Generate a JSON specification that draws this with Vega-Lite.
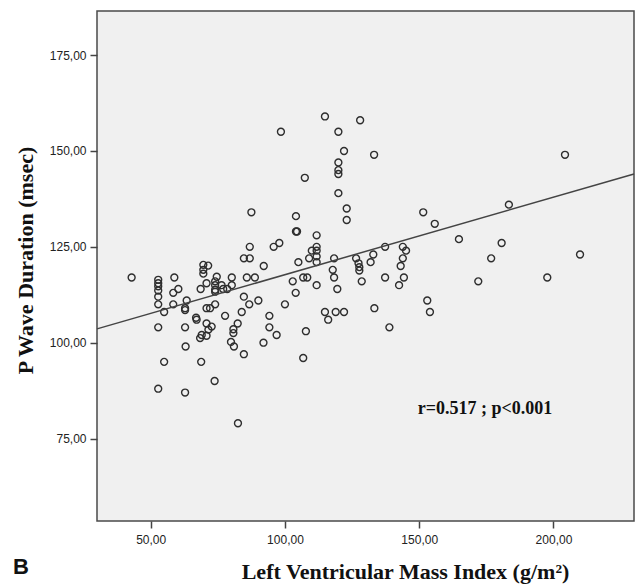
{
  "$schema": "https://vega.github.io/schema/vega-lite/v6.json",
  "width": 537,
  "height": 510,
  "autosize": {"type": "none"},
  "padding": {"left": 97, "top": 11, "right": 2, "bottom": 64},
  "background": "white",
  "config": {"view": {"fill": "#f0f0f0", "stroke": "#4a4a4a", "strokeWidth": 1.5}},
  "datasets": {
    "pts": [
      {"lvmi": 114.9, "pwd": 159}, {"lvmi": 128, "pwd": 158}, {"lvmi": 98.5, "pwd": 155}, {"lvmi": 119.9, "pwd": 155},
      {"lvmi": 122, "pwd": 150}, {"lvmi": 119.9, "pwd": 147}, {"lvmi": 119.9, "pwd": 145}, {"lvmi": 119.9, "pwd": 144},
      {"lvmi": 133.2, "pwd": 149}, {"lvmi": 204.3, "pwd": 149}, {"lvmi": 107.4, "pwd": 143}, {"lvmi": 119.9, "pwd": 139},
      {"lvmi": 123, "pwd": 135}, {"lvmi": 123, "pwd": 132}, {"lvmi": 87.5, "pwd": 134}, {"lvmi": 104.1, "pwd": 133},
      {"lvmi": 104.1, "pwd": 129}, {"lvmi": 151.5, "pwd": 134}, {"lvmi": 155.8, "pwd": 131}, {"lvmi": 183.4, "pwd": 136},
      {"lvmi": 164.8, "pwd": 127}, {"lvmi": 180.7, "pwd": 126}, {"lvmi": 176.8, "pwd": 122}, {"lvmi": 209.9, "pwd": 123},
      {"lvmi": 137.3, "pwd": 125}, {"lvmi": 132.9, "pwd": 123}, {"lvmi": 131.9, "pwd": 121}, {"lvmi": 143.9, "pwd": 125},
      {"lvmi": 145.1, "pwd": 124}, {"lvmi": 143.9, "pwd": 122}, {"lvmi": 143.1, "pwd": 120}, {"lvmi": 144.3, "pwd": 117},
      {"lvmi": 142.5, "pwd": 115}, {"lvmi": 137.3, "pwd": 117}, {"lvmi": 128.6, "pwd": 116}, {"lvmi": 133.3, "pwd": 109},
      {"lvmi": 138.9, "pwd": 104}, {"lvmi": 153, "pwd": 111}, {"lvmi": 154, "pwd": 108}, {"lvmi": 172, "pwd": 116},
      {"lvmi": 197.7, "pwd": 117}, {"lvmi": 126.5, "pwd": 122}, {"lvmi": 127.4, "pwd": 120.7}, {"lvmi": 127.7, "pwd": 119.7},
      {"lvmi": 127.7, "pwd": 118.8}, {"lvmi": 118.3, "pwd": 122}, {"lvmi": 117.8, "pwd": 119}, {"lvmi": 118.3, "pwd": 117},
      {"lvmi": 119.5, "pwd": 114}, {"lvmi": 114.9, "pwd": 108}, {"lvmi": 116.1, "pwd": 106}, {"lvmi": 118.9, "pwd": 108},
      {"lvmi": 122, "pwd": 108}, {"lvmi": 111.8, "pwd": 128}, {"lvmi": 111.8, "pwd": 125}, {"lvmi": 111.8, "pwd": 124},
      {"lvmi": 111.8, "pwd": 122.5}, {"lvmi": 111.8, "pwd": 121}, {"lvmi": 110, "pwd": 124}, {"lvmi": 109, "pwd": 122},
      {"lvmi": 105, "pwd": 121}, {"lvmi": 102.9, "pwd": 116}, {"lvmi": 104, "pwd": 113}, {"lvmi": 106.8, "pwd": 117},
      {"lvmi": 108.3, "pwd": 117}, {"lvmi": 111.8, "pwd": 115}, {"lvmi": 107.8, "pwd": 103}, {"lvmi": 106.8, "pwd": 96},
      {"lvmi": 86.9, "pwd": 125}, {"lvmi": 95.8, "pwd": 125}, {"lvmi": 97.9, "pwd": 126}, {"lvmi": 84.7, "pwd": 122},
      {"lvmi": 86.9, "pwd": 122}, {"lvmi": 92.1, "pwd": 120}, {"lvmi": 80.2, "pwd": 117}, {"lvmi": 85.8, "pwd": 117},
      {"lvmi": 88.8, "pwd": 117}, {"lvmi": 80.2, "pwd": 115}, {"lvmi": 78.5, "pwd": 114}, {"lvmi": 84.7, "pwd": 112},
      {"lvmi": 86.7, "pwd": 110}, {"lvmi": 90.1, "pwd": 111}, {"lvmi": 100, "pwd": 110}, {"lvmi": 83.9, "pwd": 108},
      {"lvmi": 77.7, "pwd": 107}, {"lvmi": 94.2, "pwd": 107}, {"lvmi": 82.4, "pwd": 105}, {"lvmi": 94.2, "pwd": 104},
      {"lvmi": 96.9, "pwd": 102}, {"lvmi": 80.8, "pwd": 103.5}, {"lvmi": 80.8, "pwd": 102.5}, {"lvmi": 79.9, "pwd": 100.2},
      {"lvmi": 81, "pwd": 99}, {"lvmi": 92, "pwd": 100}, {"lvmi": 84.7, "pwd": 97}, {"lvmi": 42.9, "pwd": 117},
      {"lvmi": 52.8, "pwd": 116.4}, {"lvmi": 52.8, "pwd": 115.5}, {"lvmi": 52.8, "pwd": 114.7}, {"lvmi": 52.8, "pwd": 113.6},
      {"lvmi": 52.8, "pwd": 112}, {"lvmi": 52.8, "pwd": 110}, {"lvmi": 55, "pwd": 108}, {"lvmi": 52.8, "pwd": 104},
      {"lvmi": 58.8, "pwd": 117}, {"lvmi": 58.4, "pwd": 113}, {"lvmi": 60.3, "pwd": 114}, {"lvmi": 58.4, "pwd": 110},
      {"lvmi": 63.4, "pwd": 111}, {"lvmi": 62.8, "pwd": 109}, {"lvmi": 62.8, "pwd": 108.5}, {"lvmi": 62.8, "pwd": 104},
      {"lvmi": 63, "pwd": 99}, {"lvmi": 67.1, "pwd": 106}, {"lvmi": 69.6, "pwd": 120.3}, {"lvmi": 71.4, "pwd": 120.1},
      {"lvmi": 69.6, "pwd": 119}, {"lvmi": 69.6, "pwd": 118}, {"lvmi": 68.6, "pwd": 114}, {"lvmi": 70.8, "pwd": 115.5},
      {"lvmi": 70.8, "pwd": 109}, {"lvmi": 72.1, "pwd": 109}, {"lvmi": 74.6, "pwd": 117.2}, {"lvmi": 74, "pwd": 116},
      {"lvmi": 74, "pwd": 115}, {"lvmi": 74, "pwd": 113.8}, {"lvmi": 74, "pwd": 113.3}, {"lvmi": 76.4, "pwd": 115},
      {"lvmi": 77, "pwd": 114}, {"lvmi": 72.7, "pwd": 104.2}, {"lvmi": 71.5, "pwd": 103.4}, {"lvmi": 69, "pwd": 102},
      {"lvmi": 68.4, "pwd": 101.2}, {"lvmi": 70.8, "pwd": 101.8}, {"lvmi": 70.8, "pwd": 105}, {"lvmi": 74, "pwd": 110},
      {"lvmi": 55, "pwd": 95}, {"lvmi": 68.8, "pwd": 95}, {"lvmi": 52.8, "pwd": 88}, {"lvmi": 62.8, "pwd": 87},
      {"lvmi": 73.8, "pwd": 90}, {"lvmi": 82.5, "pwd": 79}, {"lvmi": 104.5, "pwd": 129}, {"lvmi": 66.9, "pwd": 106.5}
    ],
    "fit": [{"lvmi": 30, "pwd": 103.6}, {"lvmi": 230, "pwd": 144.0}],
    "ann": [{"lvmi": 174.5, "pwd": 82.7, "label": "r=0.517 ; p<0.001"}],
    "tag": [{"lvmi": 1.7, "pwd": 41.5, "label": "B"}]
  },
  "layer": [
    {
      "data": {"name": "pts"},
      "mark": {"type": "point", "shape": "circle", "filled": false, "stroke": "#2e2e2e", "strokeWidth": 1.4, "size": 48, "opacity": 1},
      "encoding": {
        "x": {
          "field": "lvmi", "type": "quantitative",
          "scale": {"domain": [30, 230], "nice": false, "zero": false},
          "axis": {
            "values": [50, 100, 150, 200],
            "labelExpr": "replace(format(datum.value, '.2f'), '.', ',')",
            "grid": false, "domain": false,
            "tickSize": 7, "tickColor": "#444444", "tickWidth": 1.5,
            "labelFont": "Liberation Sans", "labelFontSize": 12, "labelColor": "#222222", "labelPadding": 6,
            "title": "Left Ventricular Mass Index (g/m²)",
            "titleFont": "Liberation Serif", "titleFontSize": 22, "titleFontWeight": "bold", "titleColor": "#111111",
            "titleX": 308, "titleY": 57, "titleBaseline": "alphabetic", "titleAlign": "center"
          }
        },
        "y": {
          "field": "pwd", "type": "quantitative",
          "scale": {"domain": [53.5, 186.5], "nice": false, "zero": false},
          "axis": {
            "values": [75, 100, 125, 150, 175],
            "labelExpr": "replace(format(datum.value, '.2f'), '.', ',')",
            "grid": false, "domain": false,
            "tickSize": 7, "tickColor": "#444444", "tickWidth": 1.5,
            "labelFont": "Liberation Sans", "labelFontSize": 12, "labelColor": "#222222", "labelPadding": 4,
            "title": "P Wave Duration (msec)",
            "titleFont": "Liberation Serif", "titleFontSize": 22, "titleFontWeight": "bold", "titleColor": "#111111",
            "titleX": -65, "titleY": 249, "titleBaseline": "alphabetic", "titleAlign": "center", "titleAngle": -90
          }
        }
      }
    },
    {
      "data": {"name": "fit"},
      "mark": {"type": "line", "stroke": "#444444", "strokeWidth": 1.5},
      "encoding": {
        "x": {"field": "lvmi", "type": "quantitative"},
        "y": {"field": "pwd", "type": "quantitative"}
      }
    },
    {
      "data": {"name": "ann"},
      "mark": {"type": "text", "font": "Liberation Serif", "fontSize": 18, "fontWeight": "bold", "color": "#111111", "align": "center", "baseline": "middle"},
      "encoding": {
        "x": {"field": "lvmi", "type": "quantitative"},
        "y": {"field": "pwd", "type": "quantitative"},
        "text": {"field": "label"}
      }
    },
    {
      "data": {"name": "tag"},
      "mark": {"type": "text", "font": "Liberation Sans", "fontSize": 22, "fontWeight": "bold", "color": "#111111", "align": "center", "baseline": "middle", "clip": false},
      "encoding": {
        "x": {"field": "lvmi", "type": "quantitative"},
        "y": {"field": "pwd", "type": "quantitative"},
        "text": {"field": "label"}
      }
    }
  ]
}
